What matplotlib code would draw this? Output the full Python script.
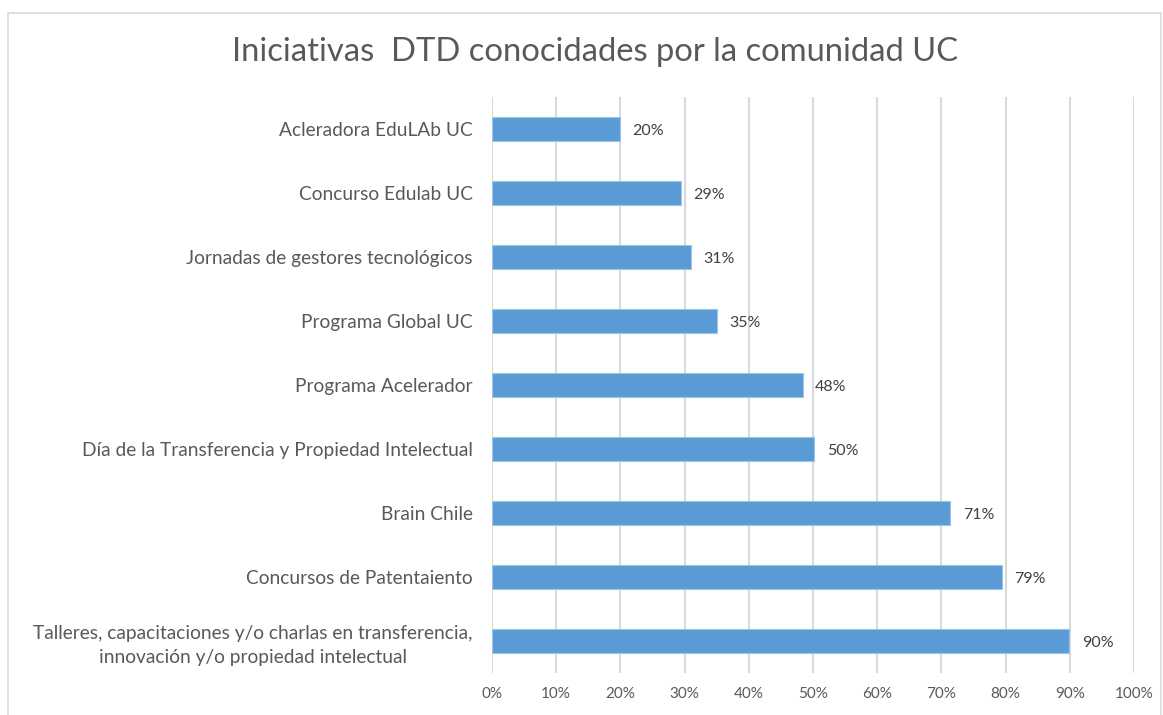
import matplotlib
matplotlib.use("Agg")
import matplotlib.pyplot as plt
from matplotlib.patches import Rectangle
from matplotlib.ticker import FuncFormatter, MultipleLocator

plt.rcParams["font.family"] = ["Lato", "DejaVu Sans"]

TITLE = "Iniciativas  DTD conocidades por la comunidad UC"

categories = [
    "Acleradora EduLAb UC",
    "Concurso Edulab UC",
    "Jornadas de gestores tecnológicos",
    "Programa Global UC",
    "Programa Acelerador",
    "Día de la Transferencia y Propiedad Intelectual",
    "Brain Chile",
    "Concursos de Patentaiento",
    "Talleres, capacitaciones y/o charlas en transferencia,\ninnovación y/o propiedad intelectual",
]
values = [0.199, 0.294, 0.31, 0.35, 0.484, 0.502, 0.714, 0.794, 0.899]

BAR = "#5b9bd5"
GRID = "#d9d9d9"
TXT = "#595959"
LBL = "#404040"

fig = plt.figure(figsize=(11.63, 7.15), dpi=100)
fig.patches.append(Rectangle((8 / 1163, -0.01), 1153 / 1163, 1 - 13 / 715 + 0.01,
                             transform=fig.transFigure, fill=False,
                             edgecolor="#d9d9d9", lw=1.2))
ax = fig.add_axes([492 / 1163, 42 / 715, 642 / 1163, 576 / 715])

y = list(range(len(categories)))
ax.barh(y, values, height=0.36, color=BAR, edgecolor="#9dc3e6", lw=0.8, zorder=3)
for yi, v in zip(y, values):
    ax.annotate(f"{v * 100:.0f}%", (v, yi), xytext=(9, -1.5), textcoords="offset points",
                va="center", ha="left", fontsize=11.5, color=LBL)

ax.set_xlim(0, 1.0)
ax.set_ylim(len(categories) - 0.5, -0.5)
ax.xaxis.set_major_locator(MultipleLocator(0.1))
ax.xaxis.set_major_formatter(FuncFormatter(lambda x, _: f"{x * 100:.0f}%"))
ax.grid(axis="x", color=GRID, lw=1.5, zorder=0)
ax.set_axisbelow(True)
for s in ax.spines.values():
    s.set_visible(False)
ax.tick_params(axis="both", length=0, colors=TXT, labelsize=11)
ax.tick_params(axis="x", pad=10)
ax.tick_params(axis="y", pad=14, labelsize=13.8)
ax.set_yticks(y)
ax.set_yticklabels(categories, multialignment="center", linespacing=1.45)

fig.text(595 / 1163, 1 - 52 / 715, TITLE, ha="center", va="center",
         fontsize=23.6, color=TXT)

fig.savefig("out.png", dpi=100)
